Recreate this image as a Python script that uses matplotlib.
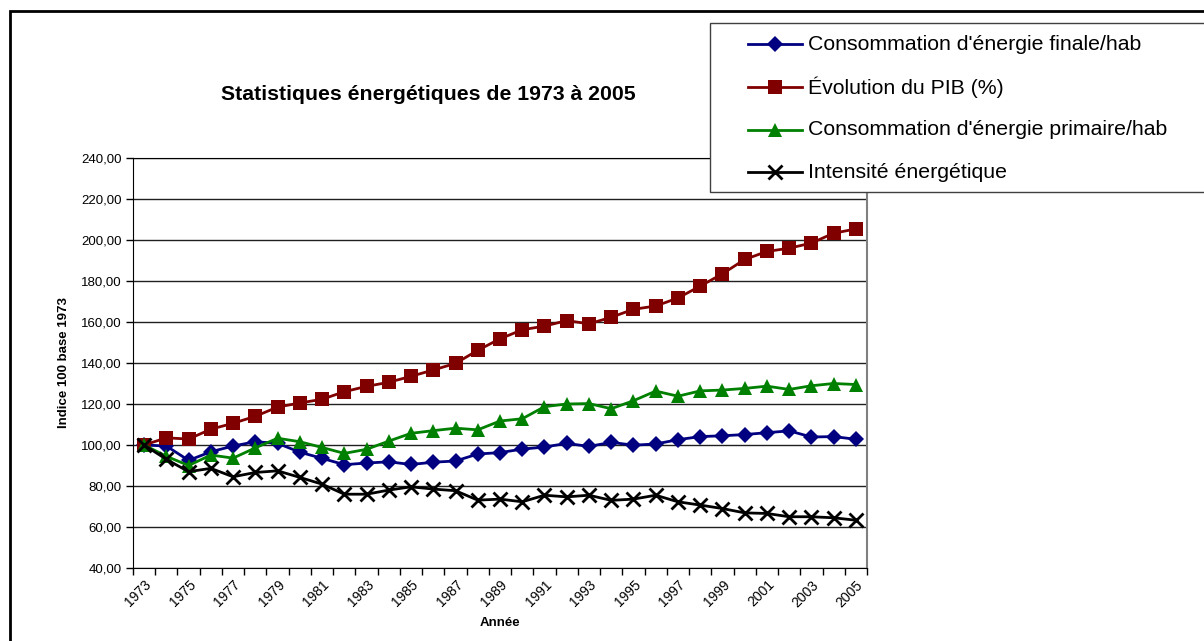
import numpy as np
import matplotlib
matplotlib.use("Agg")
import matplotlib.pyplot as plt
from matplotlib.lines import Line2D
from matplotlib.patches import Rectangle

plt.rcParams["font.family"] = ["Liberation Sans", "DejaVu Sans"]

# ─────────────────────────────────────────────
# Données (indice 100 base 1973)
# ─────────────────────────────────────────────
years = list(range(1973, 2006))

conso_finale = [100.0, 99.5, 92.5, 96.7, 99.5, 101.6, 100.8, 96.5, 93.5, 90.4, 91.2,
                91.8, 90.5, 91.6, 92.2, 95.6, 96.3, 98.0, 99.0, 100.8, 99.3, 101.3,
                99.9, 100.5, 102.6, 104.1, 104.5, 105.1, 106.0, 106.9, 103.9, 104.1,
                102.8]
pib = [100.0, 103.5, 102.9, 107.7, 110.6, 114.0, 118.5, 120.5, 122.3, 126.0, 128.6,
       130.6, 133.5, 136.6, 139.8, 146.2, 151.8, 156.2, 158.0, 160.7, 159.1, 162.3,
       166.2, 167.8, 171.7, 177.5, 183.5, 190.5, 194.4, 196.0, 198.5, 203.3, 205.4]
conso_primaire = [100.0, 94.5, 90.0, 95.1, 93.6, 98.6, 103.3, 101.6, 98.8, 95.9, 97.9,
                  101.9, 105.7, 107.0, 108.2, 107.4, 111.7, 112.8, 118.7, 120.0, 120.2,
                  117.7, 121.6, 126.3, 123.8, 126.4, 126.8, 127.6, 128.7, 127.1, 128.9,
                  130.0, 129.5]
intensite = [100.0, 93.0, 87.0, 88.6, 84.5, 86.6, 87.4, 84.2, 80.9, 76.0, 76.0,
             78.0, 79.6, 78.5, 77.7, 73.1, 73.6, 72.3, 75.5, 74.7, 75.5, 73.0,
             73.6, 75.5, 72.3, 70.7, 69.0, 66.9, 66.6, 65.0, 65.0, 64.5, 63.3]

series_labels = ["Consommation d'énergie finale/hab", "Évolution du PIB (%)",
                 "Consommation d'énergie primaire/hab", "Intensité énergétique"]

y_ticks = [40, 60, 80, 100, 120, 140, 160, 180, 200, 220, 240]

STYLES = [
    dict(color="#000080", marker="D", markersize=8.5, markeredgewidth=0),
    dict(color="#800000", marker="s", markersize=9.5, markeredgewidth=0),
    dict(color="#008000", marker="^", markersize=10.5, markeredgewidth=0),
    dict(color="#000000", marker="x", markersize=10, markeredgewidth=2),
]

W, H = 1204, 641
fig = plt.figure(figsize=(W / 100, H / 100), dpi=100)
fig.patch.set_facecolor("white")


def fx(px):
    return px / W


def fy(py):
    return 1 - py / H


# cadre du graphique
fig.add_artist(Rectangle((fx(10), fy(700)), 1.2, fy(11) - fy(700),
                         transform=fig.transFigure, fill=False,
                         edgecolor="black", linewidth=2, clip_on=False))

ax = fig.add_axes([fx(133), fy(568), fx(867) - fx(133), fy(158) - fy(568)])
x = np.arange(len(years))

for values, style in zip([conso_finale, pib, conso_primaire, intensite], STYLES):
    ax.plot(x, values, linewidth=2, clip_on=False, **style)

ax.set_xlim(-0.5, len(years) - 0.5)
ax.set_ylim(40, 240)
ax.set_yticks(y_ticks)
ax.set_yticklabels([f"{v},00" for v in y_ticks], fontsize=9.5)
ax.yaxis.grid(True, color="#202020", linewidth=1)
ax.set_axisbelow(True)

# graduations aux limites des catégories, étiquettes une année sur deux
ax.set_xticks(np.arange(-0.5, len(years), 1.0))
ax.set_xticklabels([])
ax.set_xticks(x[::2], minor=True)
ax.set_xticklabels([str(y) for y in years[::2]], minor=True, rotation=45,
                   ha="right", rotation_mode="anchor", fontsize=10)
ax.tick_params(axis="x", which="major", direction="out", length=5, width=1)
ax.tick_params(axis="x", which="minor", length=0, pad=7)
ax.tick_params(axis="y", direction="out", length=5, width=1, pad=3)

for side in ["left", "bottom", "top"]:
    ax.spines[side].set_color("black")
ax.spines["right"].set_color("#808080")
ax.spines["right"].set_linewidth(1.5)

ax.set_xlabel("Année", fontsize=9.5, fontweight="bold", labelpad=5)
ax.set_ylabel("Indice 100 base 1973", fontsize=9.5, fontweight="bold", labelpad=8)

fig.text(fx(428), fy(95), "Statistiques énergétiques de 1973 à 2005",
         ha="center", va="center", fontsize=15.3, fontweight="bold")

# légende
fig.add_artist(Rectangle((fx(710), fy(192)), 1.0, fy(23) - fy(192),
                         transform=fig.transFigure, facecolor="white",
                         edgecolor="#404040", linewidth=1, clip_on=False))
row_y = [44, 87, 130, 172]
for label, style, ry in zip(series_labels, STYLES, row_y):
    fig.add_artist(Line2D([fx(748), fx(802)], [fy(ry), fy(ry)],
                          transform=fig.transFigure, color=style["color"],
                          linewidth=2))
    fig.add_artist(Line2D([fx(775)], [fy(ry)], transform=fig.transFigure,
                          linestyle="none", **style))
    fig.text(fx(808), fy(ry), label, ha="left", va="center", fontsize=15.3)

fig.savefig("out.png", dpi=100, facecolor="white")
